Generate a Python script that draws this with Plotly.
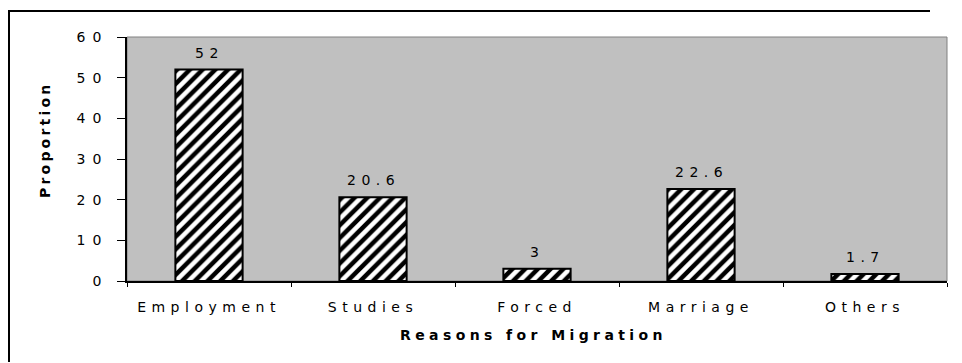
import plotly.graph_objects as go

categories = ["Employment", "Studies", "Forced", "Marriage", "Others"]
values = [52, 20.6, 3, 22.6, 1.7]
value_labels = ["52", "20.6", "3", "22.6", "1.7"]
y_ticks = [0, 10, 20, 30, 40, 50, 60]
y_tick_labels = ["0", "10", "20", "30", "40", "50", "60"]
x_title = "Reasons for Migration"
y_title = "Proportion"

FONT = "DejaVu Sans, Verdana, sans-serif"
FS = 14
SP = 5.5  # letter spacing in px


def spaced(t, sp=SP):
    return f'<span style="letter-spacing:{sp}px">{t}</span>'


fig = go.Figure()
fig.add_trace(go.Bar(
    x=categories,
    y=values,
    width=0.41,
    marker=dict(
        color="black",
        line=dict(color="black", width=2),
        pattern=dict(shape="/", fgcolor="white", bgcolor="black", size=9, solidity=0.5,
                     fillmode="replace"),
    ),
    hoverinfo="skip",
))

annotations = []
for c, v, lab in zip(categories, values, value_labels):
    annotations.append(dict(
        x=c, y=v, xref="x", yref="y", text=spaced(lab), showarrow=False,
        yanchor="bottom", xanchor="center", yshift=7,
        font=dict(family=FONT, size=FS, color="black"),
    ))

annotations.append(dict(
    x=(533 - 127) / 820, y=(281 - 335) / 244, xref="paper", yref="paper",
    text="<b>" + spaced(x_title, 4.4) + "</b>", showarrow=False,
    xanchor="center", yanchor="middle",
    font=dict(family=FONT, size=FS, color="black"),
))
annotations.append(dict(
    x=(45 - 127) / 820, y=(281 - 140) / 244, xref="paper", yref="paper",
    text="<b>" + spaced(y_title, 3.2) + "</b>", showarrow=False, textangle=-90,
    xanchor="center", yanchor="middle",
    font=dict(family=FONT, size=14, color="black"),
))

shapes = [
    # plot area background with gray frame
    dict(type="rect", xref="paper", yref="paper", x0=0, x1=1, y0=0, y1=1,
         fillcolor="#C0C0C0", line=dict(color="#808080", width=1), layer="below"),
    # outer chart border: top and left edges (right/bottom lie outside the picture)
    dict(type="line", xref="paper", yref="paper",
         x0=(8 - 127) / 820, x1=(930 - 127) / 820,
         y0=(281 - 11) / 244, y1=(281 - 11) / 244,
         line=dict(color="black", width=2), layer="above"),
    dict(type="line", xref="paper", yref="paper",
         x0=(9 - 127) / 820, x1=(9 - 127) / 820,
         y0=(281 - 10) / 244, y1=(281 - 362) / 244,
         line=dict(color="black", width=2), layer="above"),
]

fig.update_layout(
    width=962, height=363,
    margin=dict(l=127, r=15, t=37, b=82),
    paper_bgcolor="white",
    plot_bgcolor="rgba(0,0,0,0)",
    showlegend=False,
    font=dict(family=FONT, size=FS, color="black"),
    annotations=annotations,
    shapes=shapes,
    xaxis=dict(
        type="category",
        tickmode="array",
        tickvals=categories,
        ticktext=[spaced(c) for c in categories],
        tickson="boundaries",
        ticks="outside", ticklen=4, tickcolor="black", tickwidth=1,
        showline=True, linecolor="black", linewidth=1.5,
        showgrid=False, zeroline=False,
        ticklabelstandoff=12,
        tickfont=dict(family=FONT, size=FS, color="black"),
        range=[-0.5, 4.5],
    ),
    yaxis=dict(
        range=[0, 60],
        tickmode="array",
        tickvals=y_ticks,
        ticktext=[spaced(t, 7) for t in y_tick_labels],
        ticks="outside", ticklen=8, tickcolor="black", tickwidth=1,
        showline=True, linecolor="black", linewidth=1.5,
        showgrid=False, zeroline=False,
        ticklabelstandoff=6,
        tickfont=dict(family=FONT, size=FS, color="black"),
    ),
)

fig.write_html("out.html")
